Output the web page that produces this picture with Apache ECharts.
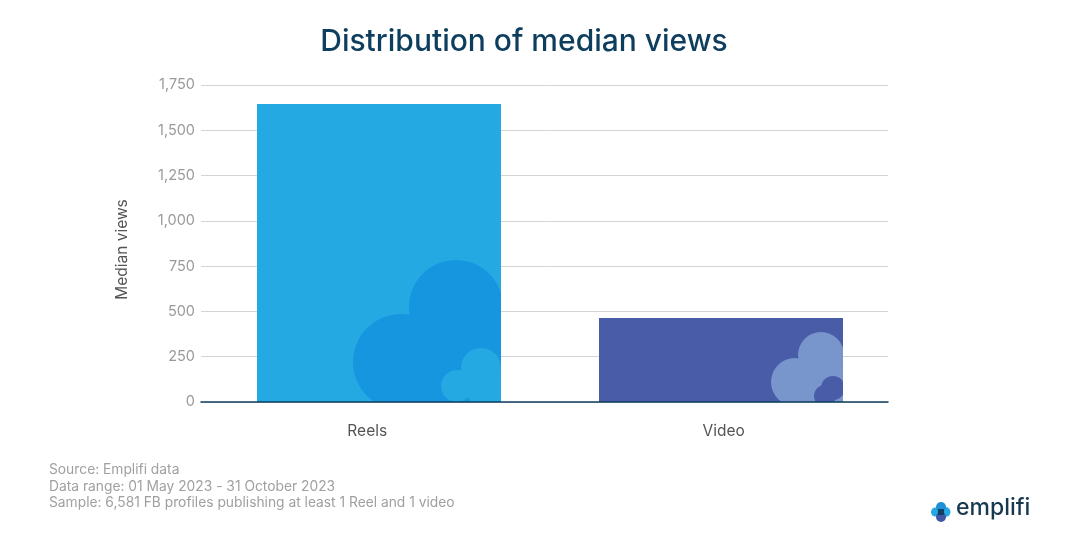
<!DOCTYPE html>
<html><head><meta charset="utf-8">
<style>html,body{margin:0;padding:0;background:#fff}#c{width:1083px;height:542px}</style>
<script src="https://cdn.jsdelivr.net/npm/echarts@6/dist/echarts.min.js"></script>
</head><body><div id="c"></div>
<script>
const categories = ['Reels', 'Video'];
const medianViews = [1645, 464];
const yTicks = [0, 250, 500, 750, 1000, 1250, 1500, 1750];
const barColors = ['#24A9E3', '#485CA8'];
const sourceLines = ['Source: Emplifi data', 'Data range: 01 May 2023 - 31 October 2023', 'Sample: 6,581 FB profiles publishing at least 1 Reel and 1 video'];

// decorative cloud layout per bar, offsets from the bar's bottom-right corner
const cloudFill = [
  [[-45, -95, '#1796E0'], [-81, -62, '#1796E0']],
  [[-22, -47, '#7895CC'], [-38, -32, '#7895CC']]
];
const clouds = [
  [[-45, -95, 47, '#1796E0'], [-100, -40, 48, '#1796E0'], [-20, -34, 20, '#24A9E3'], [-44, -16, 16, '#24A9E3'], [-12, -12, 22, '#24A9E3']],
  [[-22, -47, 23, '#7895CC'], [-48, -20, 24, '#7895CC'], [-10, -14, 12, '#485CA8'], [-18, -6, 11, '#485CA8']]
];
const labelShift = [[0, 11, 0, 0], [0, 0, 0, 15]];
const FONT = 'Inter, "Noto Sans", sans-serif';
const barWidth = 244;

const chart = echarts.init(document.getElementById('c'), null, {renderer: 'canvas'});
chart.setOption({
  backgroundColor: '#fff',
  animation: false,
  title: {
    text: 'Distribution of median views', left: 519, top: 22, textAlign: 'center',
    textStyle: {fontFamily: FONT, fontSize: 30, fontWeight: 500, color: '#0E3E5E'}
  },
  grid: [
    {left: 201, right: 195, top: 85, bottom: 140},
    {left: 208, right: 191, top: 85, bottom: 140}
  ],
  xAxis: [
    {type: 'category', gridIndex: 0, data: categories, z: 6,
      axisTick: {show: false},
      axisLine: {lineStyle: {color: '#0E3E5E', width: 1.5}},
      axisLabel: {margin: 21, formatter: v => `{${v}|${v}}`, fontFamily: FONT,
        rich: {
          Reels: {padding: labelShift[0], fontSize: 15.5, color: '#555', fontFamily: FONT},
          Video: {padding: labelShift[1], fontSize: 15.5, color: '#555', fontFamily: FONT}
        }}},
    {type: 'category', gridIndex: 1, data: categories, show: false}
  ],
  yAxis: [
    {type: 'value', gridIndex: 0, min: 0, max: 1750, interval: 250,
      name: 'Median views', nameLocation: 'middle', nameGap: 71, nameRotate: 90,
      nameTextStyle: {fontFamily: FONT, fontSize: 15.5, color: '#555', padding: [0, 12, 0, 0]},
      axisLine: {show: false}, axisTick: {show: false},
      axisLabel: {margin: 6, padding: [4, 0, 0, 0], fontFamily: FONT, fontSize: 14.5, color: '#9a9a9a',
        formatter: v => v.toLocaleString('en-US')},
      splitLine: {lineStyle: {color: '#d4d4d4', width: 1}}},
    {type: 'value', gridIndex: 1, min: 0, max: 1750, interval: 250, show: false}
  ],
  series: [
    {type: 'bar', xAxisIndex: 1, yAxisIndex: 1, barWidth: barWidth, z: 2,
      data: medianViews.map((v, i) => ({value: v, itemStyle: {color: barColors[i]}}))},
    {type: 'custom', xAxisIndex: 1, yAxisIndex: 1, z: 3, silent: true, clip: false,
      data: medianViews.map((v, i) => [i, v]),
      renderItem(params, api) {
        const i = api.value(0), v = api.value(1);
        const top = api.coord([i, v]), base = api.coord([i, 0]);
        const right = top[0] + barWidth / 2, left = top[0] - barWidth / 2;
        const rects = cloudFill[i].map(r => ({
          type: 'rect',
          shape: {x: right + r[0], y: base[1] + r[1], width: -r[0], height: -r[1]},
          style: {fill: r[2]}
        }));
        return {
          type: 'group',
          clipPath: {type: 'rect', shape: {x: left, y: top[1], width: barWidth, height: base[1] - top[1]}},
          children: rects.concat(clouds[i].map(c => ({
            type: 'circle',
            shape: {cx: right + c[0], cy: base[1] + c[1], r: c[2]},
            style: {fill: c[3]}
          })))
        };
      }}
  ],
  graphic: [
    {type: 'text', left: 49, top: 462, style: {
      text: sourceLines.join('\n'), font: '13.8px ' + FONT, fill: '#a0a0a0', lineHeight: 16.5}},
    {type: 'group', left: 931, top: 502, children: [
      {type: 'circle', shape: {cx: 4.5, cy: 10, r: 4.5}, style: {fill: '#24A9E3'}},
      {type: 'circle', shape: {cx: 14.5, cy: 10, r: 5}, style: {fill: '#24A9E3'}},
      {type: 'circle', shape: {cx: 10, cy: 5, r: 5}, style: {fill: '#1F8FD6'}},
      {type: 'circle', shape: {cx: 10, cy: 15, r: 5}, style: {fill: '#3F57A5'}},
      {type: 'rect', shape: {x: 7, y: 7, width: 6, height: 6}, style: {fill: '#123F63'}}
    ]},
    {type: 'text', left: 956, top: 497, style: {
      text: 'emplifi', font: '500 23px ' + FONT, fill: '#17384F'}}
  ]
});
</script></body></html>
